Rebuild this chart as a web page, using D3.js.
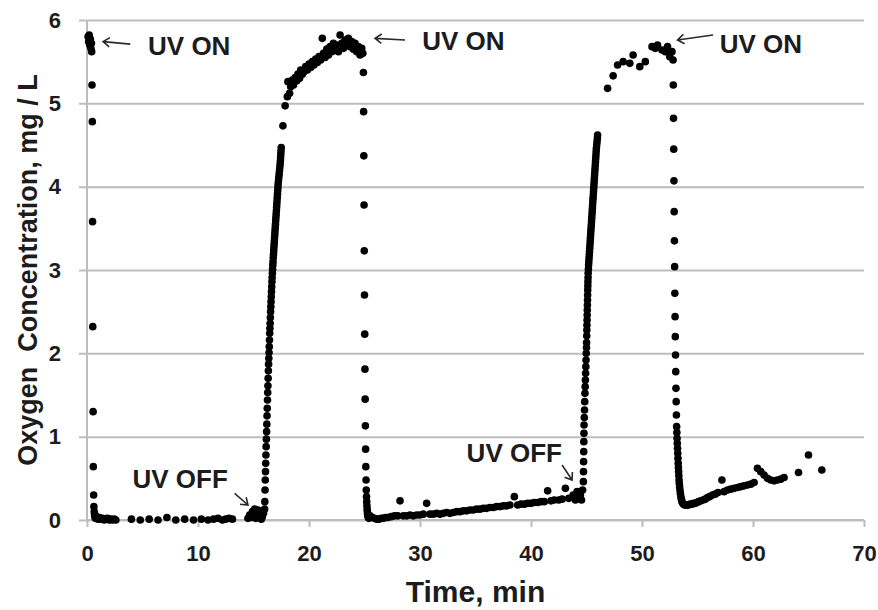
<!DOCTYPE html>
<html>
<head>
<meta charset="utf-8">
<script src="https://cdn.jsdelivr.net/npm/d3@7"></script>
<style>
  html, body { margin: 0; padding: 0; background: #fff; }
  svg { display: block; }
  text { font-family: "Liberation Sans", Arial, sans-serif; }
</style>
</head>
<body>
<svg id="chart" width="878" height="610"></svg>
<script>
// Dissolved oxygen readings [time (min), O2 (mg/L)], grouped by UV phase.
const decay1 = [
  [0.10,5.80],[0.15,5.74],[0.20,5.82],[0.25,5.70],[0.30,5.77],[0.35,5.66],[0.40,5.72],[0.42,5.62],
  [0.45,5.22],[0.48,4.78],[0.50,3.58],[0.52,2.32],[0.55,1.30],[0.57,0.64],[0.60,0.30],[0.62,0.16],
  [0.65,0.10],[0.68,0.06],[0.72,0.04],[0.76,0.02]
];
const baseline1 = [
  [0.80,0.05],[0.90,0.02],[1.00,0.01],[1.10,0.03],[1.25,0.01],[1.40,0.02],[1.55,0.00],[1.70,0.01],
  [1.85,0.02],[2.00,0.00],[2.15,0.01],[2.30,0.00],[2.45,0.01],[2.60,0.00],
  [4.00,0.01],[4.80,0.00],[5.60,0.01],[6.40,0.00],[7.20,0.03],[8.00,0.00],[8.80,0.01],[9.60,0.00],
  [10.30,0.01],[10.90,0.00],[11.40,0.01],[11.80,0.02],[12.20,0.00],[12.50,0.01],[12.80,0.02],[13.10,0.01],
  [14.50,0.02],[14.65,0.06],[14.80,0.03],[14.90,0.10],[15.00,0.05],[15.10,0.13],[15.20,0.02],[15.30,0.08],
  [15.40,0.12],[15.50,0.03],[15.60,0.07],[15.70,0.01],[15.80,0.04],[15.90,0.08],[16.00,0.13]
];
const rise1 = [
  [16.02,0.22],[16.04,0.36],[16.06,0.48],[16.08,0.58],[16.10,0.68],[16.12,0.78],[16.14,0.88],[16.16,0.97],
  [16.18,1.06],[16.20,1.15],[16.22,1.25],[16.24,1.34],[16.26,1.44],[16.28,1.53],[16.30,1.61],[16.32,1.70],
  [16.34,1.79],[16.36,1.87],[16.38,1.94],[16.40,2.01],[16.42,2.08],[16.44,2.16],[16.46,2.24],[16.48,2.30],
  [16.50,2.36],[16.52,2.43],[16.54,2.50],[16.56,2.56],[16.58,2.62],[16.60,2.68],[16.62,2.74],[16.64,2.80],
  [16.66,2.86],[16.68,2.91],[16.70,2.96],[16.72,3.01],[16.74,3.06],[16.76,3.10],[16.78,3.15],[16.80,3.19],
  [16.82,3.23],[16.84,3.27],[16.86,3.31],[16.88,3.35],[16.90,3.39],[16.92,3.43],[16.94,3.47],[16.96,3.51],
  [16.98,3.55],[17.00,3.59],[17.02,3.63],[17.04,3.67],[17.06,3.71],[17.08,3.75],[17.10,3.79],[17.12,3.83],
  [17.14,3.87],[17.16,3.91],[17.18,3.95],[17.20,3.99],[17.22,4.03],[17.25,4.07],[17.28,4.11],[17.31,4.15],
  [17.34,4.19],[17.37,4.23],[17.40,4.27],[17.42,4.31],[17.44,4.35],[17.46,4.39],[17.48,4.43],[17.50,4.47]
];
const plateau1 = [
  [17.65,4.73],[17.85,4.97],[18.05,5.08],[18.10,5.26],[18.25,5.12],[18.35,5.20],[18.50,5.28],[18.60,5.22],
  [18.75,5.31],[18.90,5.27],[19.00,5.35],[19.15,5.30],[19.25,5.40],[19.40,5.35],[19.55,5.38],[19.70,5.44],
  [19.85,5.40],[20.00,5.47],[20.15,5.43],[20.30,5.50],[20.45,5.46],[20.60,5.53],[20.75,5.49],[20.90,5.56],
  [21.05,5.52],[21.20,5.78],[21.30,5.60],[21.45,5.55],[21.60,5.65],[21.75,5.58],[21.90,5.68],[22.05,5.62],
  [22.20,5.72],[22.35,5.64],[22.50,5.70],[22.65,5.62],[22.80,5.82],[22.95,5.72],[23.10,5.66],[23.25,5.76],
  [23.40,5.70],[23.55,5.78],[23.70,5.68],[23.85,5.74],[24.00,5.65],[24.15,5.72],[24.30,5.62],[24.45,5.68],
  [24.60,5.58],[24.75,5.66],[24.85,5.60]
];
const decay2 = [
  [24.90,5.37],[24.92,4.90],[24.94,4.37],[24.96,3.78],[24.98,3.23],[25.00,2.70],[25.02,2.23],[25.04,1.81],
  [25.06,1.45],[25.08,1.13],[25.10,0.85],[25.12,0.64],[25.14,0.48],[25.16,0.36],[25.18,0.28],[25.20,0.22],
  [25.22,0.17],[25.24,0.13],[25.26,0.10],[25.28,0.07],[25.30,0.05],[25.35,0.03],[25.40,0.02]
];
const baseline2 = [
  [25.5,0.05],[25.7,0.03],[25.9,0.02],[26.1,0.01],[26.3,0.01],[26.5,0.02],[26.7,0.02],[26.9,0.03],
  [27.1,0.03],[27.4,0.04],[27.7,0.05],[28.0,0.05],[28.2,0.23],[28.5,0.05],[28.8,0.05],[29.1,0.06],
  [29.4,0.05],[29.7,0.06],[30.0,0.06],[30.3,0.07],[30.6,0.20],[30.9,0.07],[31.2,0.07],[31.5,0.08],
  [31.8,0.07],[32.1,0.08],[32.4,0.09],[32.7,0.08],[33.0,0.09],[33.3,0.10],[33.6,0.10],[33.9,0.11],
  [34.2,0.11],[34.5,0.12],[34.8,0.12],[35.1,0.13],[35.4,0.13],[35.7,0.14],[36.0,0.14],[36.3,0.15],
  [36.6,0.15],[36.9,0.16],[37.2,0.16],[37.5,0.17],[37.8,0.17],[38.1,0.18],[38.5,0.28],[38.8,0.18],
  [39.1,0.19],[39.4,0.19],[39.7,0.20],[40.0,0.20],[40.3,0.21],[40.6,0.21],[40.9,0.22],[41.2,0.22],
  [41.5,0.35],[41.8,0.23],[42.1,0.24],[42.5,0.24],[42.8,0.25],[43.1,0.38],[43.4,0.26],[43.8,0.30],
  [44.0,0.24],[44.15,0.34],[44.3,0.26],[44.45,0.30],[44.55,0.24],[44.65,0.36]
];
const rise2 = [
  [44.72,0.46],[44.73,0.58],[44.74,0.70],[44.75,0.82],[44.76,0.94],[44.77,1.04],[44.78,1.14],[44.80,1.23],
  [44.82,1.32],[44.84,1.42],[44.86,1.52],[44.88,1.60],[44.90,1.68],[44.92,1.76],[44.94,1.84],[44.96,1.92],
  [44.98,2.00],[45.00,2.07],[45.01,2.13],[45.02,2.21],[45.03,2.28],[45.04,2.34],[45.05,2.40],[45.06,2.46],
  [45.07,2.52],[45.08,2.58],[45.09,2.64],[45.10,2.70],[45.11,2.76],[45.12,2.81],[45.13,2.86],[45.14,2.91],
  [45.15,2.96],[45.17,3.01],[45.19,3.06],[45.21,3.10],[45.23,3.14],[45.25,3.18],[45.27,3.22],[45.29,3.26],
  [45.31,3.30],[45.33,3.34],[45.35,3.38],[45.37,3.42],[45.39,3.46],[45.41,3.50],[45.43,3.54],[45.45,3.58],
  [45.47,3.62],[45.49,3.66],[45.51,3.70],[45.53,3.74],[45.55,3.78],[45.57,3.82],[45.59,3.86],[45.61,3.90],
  [45.63,3.94],[45.65,3.98],[45.67,4.02],[45.69,4.06],[45.71,4.10],[45.73,4.14],[45.75,4.18],[45.77,4.22],
  [45.79,4.26],[45.81,4.30],[45.83,4.34],[45.85,4.38],[45.87,4.42],[45.89,4.46],[45.92,4.50],[45.95,4.54],
  [45.98,4.58],[46.00,4.62]
];
const plateau2 = [
  [46.9,5.18],[47.4,5.33],[47.8,5.46],[48.3,5.50],[48.9,5.48],[49.2,5.58],[49.8,5.44],[50.3,5.50],
  [50.9,5.68],[51.2,5.66],[51.4,5.70],[51.8,5.64],[52.1,5.62],[52.3,5.68],[52.5,5.56],[52.7,5.62],[52.8,5.52]
];
const decay3 = [
  [52.82,5.22],[52.84,4.82],[52.86,4.45],[52.88,4.07],[52.90,3.70],[52.92,3.35],[52.94,3.04],[52.96,2.72],
  [52.98,2.44],[53.00,2.20],[53.02,1.98],[53.04,1.78],[53.06,1.58],[53.08,1.42],[53.10,1.26],[53.12,1.12],
  [53.14,1.05],[53.16,0.98],[53.18,0.92],[53.20,0.86],[53.22,0.80],[53.24,0.74],[53.26,0.68],[53.28,0.63],
  [53.30,0.58],[53.32,0.53],[53.34,0.48],[53.36,0.44],[53.39,0.40],[53.42,0.36],[53.46,0.32],[53.50,0.28],
  [53.55,0.25],[53.60,0.22],[53.67,0.20],[53.75,0.19],[53.84,0.18],[53.94,0.18]
];
const baseline3 = [
  [54.05,0.18],[54.2,0.18],[54.35,0.19],[54.5,0.19],[54.65,0.20],[54.8,0.20],[54.95,0.21],[55.1,0.22],
  [55.3,0.23],[55.5,0.24],[55.7,0.25],[55.9,0.27],[56.1,0.28],[56.35,0.30],[56.6,0.31],[56.85,0.33],
  [57.2,0.48],[57.4,0.34],[57.7,0.36],[58.0,0.37],[58.3,0.38],[58.6,0.39],[58.9,0.40],[59.2,0.41],
  [59.5,0.42],[59.8,0.43],[60.1,0.45],[60.4,0.62],[60.7,0.58],[61.0,0.54],[61.3,0.50],[61.6,0.48],
  [61.9,0.47],[62.2,0.48],[62.5,0.49],[62.8,0.51],[64.1,0.57],[65.0,0.78],[66.2,0.60]
];

// Axis ticks
const xTicks = [0, 10, 20, 30, 40, 50, 60, 70];
const yTicks = [0, 1, 2, 3, 4, 5, 6];

// UV switching annotations: label anchor and arrow (tail -> head) in data units
const labels = [
  { text: "UV ON",  x: 5.5,   y: 5.58, tail: [3.9, 5.71],  head: [1.45, 5.74] },
  { text: "UV ON",  x: 30.2,  y: 5.64, tail: [28.65, 5.76], head: [25.95, 5.78] },
  { text: "UV ON",  x: 57.0,  y: 5.60, tail: [56.4, 5.82],  head: [53.2, 5.76] },
  { text: "UV OFF", x: 4.1,   y: 0.38, tail: [13.3, 0.32],  head: [14.5, 0.18] },
  { text: "UV OFF", x: 34.2,  y: 0.70, tail: [42.8, 0.66],  head: [43.7, 0.48] }
];

const svg = d3.select("#chart");
const plotLeft = 87, plotRight = 864, plotTop = 20, plotBottom = 520;

const x = d3.scaleLinear().domain([0, 70]).range([plotLeft, plotRight]);
const y = d3.scaleLinear().domain([0, 6]).range([plotBottom, plotTop]);

const gridColor = "#bdbdbd";
const textColor = "#1c1c1c";
const intFormat = d3.format("d");

// Horizontal gridlines with short ticks left of the axis
const yAxis = d3.axisLeft(y).tickValues(yTicks).tickFormat(intFormat)
  .tickSize(-(plotRight - (plotLeft - 8))).tickPadding(18);
const gy = svg.append("g").attr("transform", `translate(${plotLeft - 8},0)`).call(yAxis);
gy.select(".domain").remove();
gy.selectAll(".tick line").attr("stroke", gridColor).attr("stroke-width", 2);
gy.selectAll(".tick text")
  .attr("fill", textColor)
  .style("font-size", "22px")
  .style("font-weight", "bold");

// Vertical axis line
svg.append("line")
  .attr("x1", plotLeft).attr("x2", plotLeft)
  .attr("y1", plotTop).attr("y2", plotBottom + 1)
  .attr("stroke", gridColor).attr("stroke-width", 2);

// Bottom axis
const xAxis = d3.axisBottom(x).tickValues(xTicks).tickFormat(intFormat).tickSize(7).tickPadding(18);
const gx = svg.append("g").attr("transform", `translate(0,${plotBottom})`).call(xAxis);
gx.select(".domain").attr("stroke", gridColor).attr("stroke-width", 2)
  .attr("d", `M${plotLeft},0H${plotRight}`);
gx.selectAll(".tick line").attr("stroke", gridColor).attr("stroke-width", 2);
gx.selectAll(".tick text")
  .attr("fill", textColor)
  .style("font-size", "22px")
  .style("font-weight", "bold");

// Axis titles
svg.append("text")
  .attr("x", (plotLeft + plotRight) / 2).attr("y", 602)
  .attr("text-anchor", "middle")
  .attr("fill", textColor)
  .style("font-size", "30px").style("font-weight", "bold")
  .text("Time, min");

svg.append("text")
  .attr("transform", `translate(37,${(plotTop + plotBottom) / 2}) rotate(-90)`)
  .attr("text-anchor", "middle")
  .attr("fill", textColor)
  .style("font-size", "27px").style("font-weight", "bold")
  .style("white-space", "pre")
  .text("Oxygen  Concentration, mg / L");

// Data points
const series = [decay1, baseline1, rise1, plateau1, decay2, baseline2, rise2, plateau2, decay3, baseline3];
const points = series.flat();
svg.append("g")
  .selectAll("circle")
  .data(points)
  .join("circle")
  .attr("cx", d => x(d[0]))
  .attr("cy", d => y(d[1]))
  .attr("r", 3.8)
  .attr("fill", "#000");

// Annotations
const ann = svg.append("g");
labels.forEach(a => {
  const [tx, ty] = [x(a.tail[0]), y(a.tail[1])];
  const [hx, hy] = [x(a.head[0]), y(a.head[1])];
  const ang = Math.atan2(hy - ty, hx - tx);
  const len = 8, spread = Math.PI / 5;
  const p = d3.path();
  p.moveTo(tx, ty); p.lineTo(hx, hy);
  p.moveTo(hx - len * Math.cos(ang - spread), hy - len * Math.sin(ang - spread));
  p.lineTo(hx, hy);
  p.lineTo(hx - len * Math.cos(ang + spread), hy - len * Math.sin(ang + spread));
  ann.append("path")
    .attr("d", p.toString())
    .attr("fill", "none")
    .attr("stroke", "#2a2a2a")
    .attr("stroke-width", 1.6);
  ann.append("text")
    .attr("x", x(a.x)).attr("y", y(a.y))
    .attr("fill", textColor)
    .style("font-size", "26px").style("font-weight", "bold")
    .text(a.text);
});
</script>
</body>
</html>
